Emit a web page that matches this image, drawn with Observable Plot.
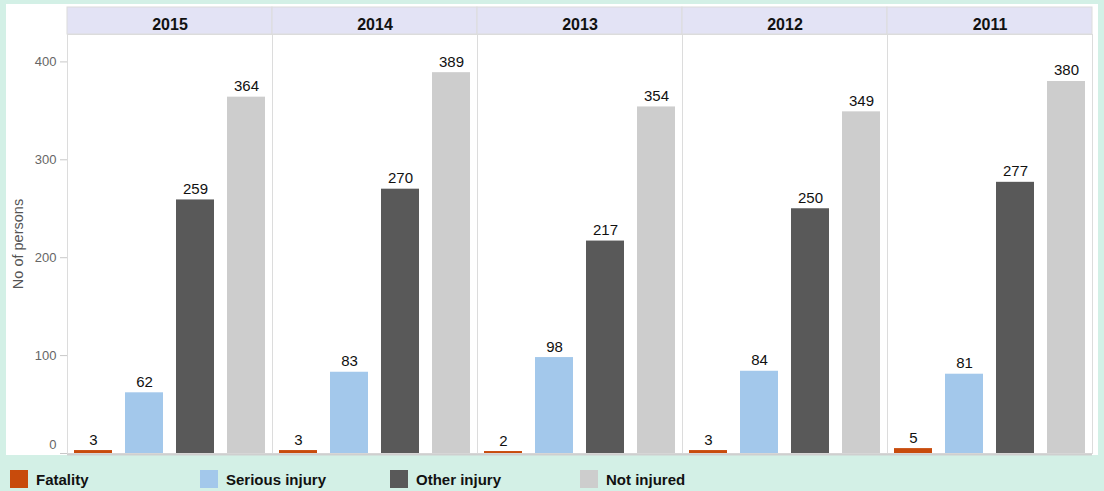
<!DOCTYPE html>
<html>
<head>
<meta charset="utf-8">
<script src="https://cdn.jsdelivr.net/npm/d3@7"></script>
<script src="https://cdn.jsdelivr.net/npm/@observablehq/plot@0.6"></script>
<style>
  html, body { margin: 0; padding: 0; }
  body { width: 1104px; height: 491px; background: #d3f0e6; position: relative; overflow: hidden;
         font-family: "Liberation Sans", Arial, sans-serif; }
  #chart { position: absolute; left: 6px; top: 4px; width: 1092px; height: 451px; background: white; }
  #legend { position: absolute; left: 10px; top: 470px; display: flex; }
  .item { width: 190px; display: flex; align-items: center; font-weight: bold; font-size: 15px; color: #111; }
  .sw { width: 18px; height: 18px; margin-right: 8px; flex: none; }
</style>
</head>
<body>
<div id="chart"></div>
<div id="legend"></div>
<script>
const years = ["2015", "2014", "2013", "2012", "2011"];
const categories = ["Fatality", "Serious injury", "Other injury", "Not injured"];
const colors = ["#c84b0c", "#a3c8eb", "#595959", "#cdcdcd"];
const fatality = [3, 3, 2, 3, 5];
const serious = [62, 83, 98, 84, 81];
const other = [259, 270, 217, 250, 277];
const notInjured = [364, 389, 354, 349, 380];
const yTicks = [0, 100, 200, 300, 400];

const series = [fatality, serious, other, notInjured];
const data = [];
years.forEach((yr, i) => {
  categories.forEach((c, j) => data.push({year: yr, category: c, value: series[j][i]}));
});

const chart = Plot.plot({
  width: 1092,
  height: 451,
  marginLeft: 60,
  marginRight: 5,
  marginTop: 30,
  marginBottom: 2,
  style: {fontFamily: "'Liberation Sans', Arial, sans-serif", fontSize: "13px", background: "white", overflow: "visible"},
  fx: {domain: years, padding: 0, label: null},
  x: {domain: categories, paddingInner: 0.25, paddingOuter: 0.1, axis: null},
  y: {domain: [0, 428], label: null},
  color: {domain: categories, range: colors},
  marks: [
    Plot.frame({stroke: "#dcdcdc"}),
    Plot.axisFx({anchor: "top", tickSize: 0, tickPadding: 5, fontWeight: "bold", fontSize: 16, color: "#111", label: null}),
    Plot.axisY({ticks: yTicks, tickSize: 7, tickPadding: 4, stroke: "#c8c8c8", fill: "#666", fontSize: 13,
                tickFormat: d => d === 0 ? "" : d, label: null}),
    Plot.axisY({ticks: [], tickSize: 0, fill: "#555", fontSize: 14.5,
                label: "No of persons", labelAnchor: "center", labelArrow: "none", labelOffset: 55}),
    Plot.axisY({ticks: [0], tickSize: 0, tickPadding: 11, dy: -9, fill: "#666", fontSize: 13, label: null}),
    Plot.barY(data, {fx: "year", x: "category", y: "value", fill: "category"}),
    Plot.ruleY([0], {stroke: "#cfcfcf", strokeWidth: 2, dy: 1}),
    Plot.text(data, {fx: "year", x: "category", y: "value", text: "value", dy: -6, lineAnchor: "bottom", fill: "#111", fontSize: 15})
  ]
});

// header bands drawn from the fx scale
const fxs = chart.scale("fx");
const g = d3.select(chart).insert("g", ":first-child");
years.forEach(yr => {
  g.append("rect")
    .attr("x", fxs.apply(yr))
    .attr("y", 3)
    .attr("width", fxs.bandwidth)
    .attr("height", 27)
    .attr("fill", "#e3e3f5")
    .attr("stroke", "#dcdcdc");
});
document.getElementById("chart").appendChild(chart);

const legend = document.getElementById("legend");
categories.forEach((c, i) => {
  const it = document.createElement("div");
  it.className = "item";
  const sw = document.createElement("div");
  sw.className = "sw";
  sw.style.background = colors[i];
  it.appendChild(sw);
  it.appendChild(document.createTextNode(c));
  legend.appendChild(it);
});
</script>
</body>
</html>
